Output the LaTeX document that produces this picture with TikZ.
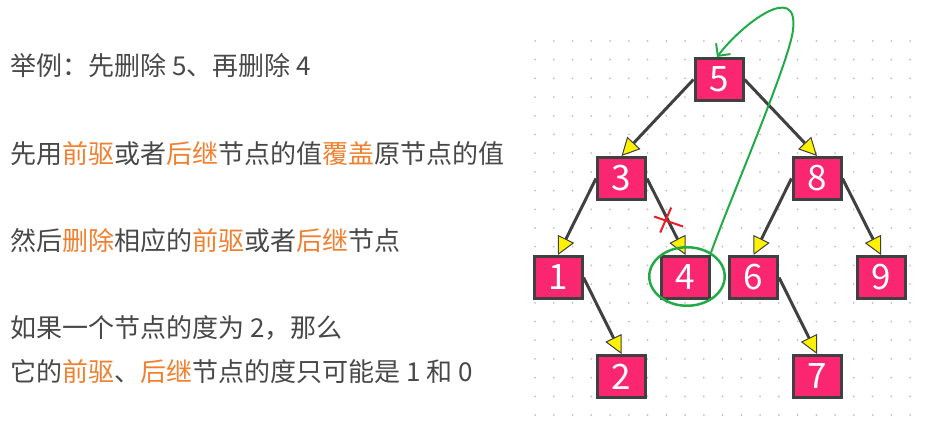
\documentclass[tikz,border=0pt]{standalone}
\usepackage{fontspec}
\setmainfont{Noto Sans CJK SC}
\usetikzlibrary{arrows.meta,positioning,shapes.geometric}

\definecolor{nodepink}{RGB}{250,38,112}
\definecolor{edgegray}{RGB}{64,64,64}
\definecolor{textgray}{RGB}{72,72,72}
\definecolor{hotorange}{RGB}{240,128,48}
\definecolor{markgreen}{RGB}{34,170,72}
\definecolor{crossred}{RGB}{235,30,40}
\definecolor{dotgray}{RGB}{190,190,190}

\newcommand{\hot}[1]{\textcolor{hotorange}{#1}}

\begin{document}
\begin{tikzpicture}[
    x=1pt, y=1pt,
    key/.style={
        draw=edgegray,
        fill=nodepink,
        line width=3pt,
        minimum width=48pt,
        minimum height=42pt,
        inner sep=0pt,
        text=white,
        font=\fontsize{35}{35}\selectfont
    },
    link/.style={
        draw=edgegray,
        line width=3pt,
        -{Triangle[fill=yellow, length=18pt, width=18pt, line width=1pt]}
    },
    note/.style={
        anchor=west,
        inner sep=0pt,
        text=textgray,
        font=\fontsize{26}{26}\selectfont
    }
]

\useasboundingbox (0,0) rectangle (928,-427);

% dotted grid
\foreach \i in {0,...,20}
  \foreach \j in {0,...,20}
    \fill[dotgray] (535+18.75*\i, -41-18.7*\j) circle (1pt);

% explanation text
\node[note] (l1) at (10,-66) {举例：先删除\ 5、再删除\ 4};
\node[note] (l2) at (10,-154) {先用\hot{前驱}或者\hot{后继}节点的值\hot{覆盖}原节点的值};
\node[note] (l3) at (10,-241) {然后\hot{删除}相应的\hot{前驱}或者\hot{后继}节点};
\node[note] (l4) at (10,-328) {如果一个节点的度为\ 2，那么};
\node[note] (l5) at (10,-372) {它的\hot{前驱}、\hot{后继}节点的度只可能是\ 1\ 和\ 0};

% tree
\node[key] (n5) at (719,-79.5) {5};
\node[key, below left=54pt and 46.5pt of n5] (n3) {3};
\node[key, below right=54pt and 47pt of n5] (n8) {8};
\node[key, below left=54pt and 12.5pt of n3] (n1) {1};
\node[key, below right=54pt and 13pt of n3] (n4) {4};
\node[key, below left=54pt and 12.5pt of n8] (n6) {6};
\node[key, below right=54pt and 13pt of n8] (n9) {9};
\node[key, below right=54pt and 12.5pt of n1] (n2) {2};
\node[key, below right=54pt and 12.5pt of n6] (n7) {7};

% child links
\draw[link] (n5.west) -- (n3.north);
\draw[link] (n5.east) -- (n8.north);
\draw[link] (n3.west) -- (n1.north);
\draw[link] (n3.east) -- (n4.north);
\draw[link] (n8.west) -- (n6.north);
\draw[link] (n8.east) -- (n9.north);
\draw[link] (n1.east) -- (n2.north);
\draw[link] (n6.east) -- (n7.north);

% cut link 3 -> 4
\path (n3.east) -- (n4.north) coordinate[pos=0.55] (cut);
\draw[crossred, line width=2pt]
    ([shift={(-14,4)}]cut) -- ([shift={(15,-6)}]cut)
    ([shift={(3,13)}]cut) -- ([shift={(-8,-12)}]cut);

% 4 moves up to replace 5
\node[ellipse, draw=markgreen, line width=2.5pt, minimum width=75.5pt,
      minimum height=58.5pt, inner sep=0pt] (ring)
      at ([xshift=1.5pt, yshift=1pt]n4.center) {};
\coordinate (turn) at (793,-30);
\draw[markgreen, line width=2pt, -{Straight Barb[length=9pt, width=18pt]}]
    (ring.45) .. controls (729,-202) and (789,-63) .. (turn)
    .. controls (799,20) and (741,-25) .. ([xshift=-2pt]n5.north);

\end{tikzpicture}
\end{document}
